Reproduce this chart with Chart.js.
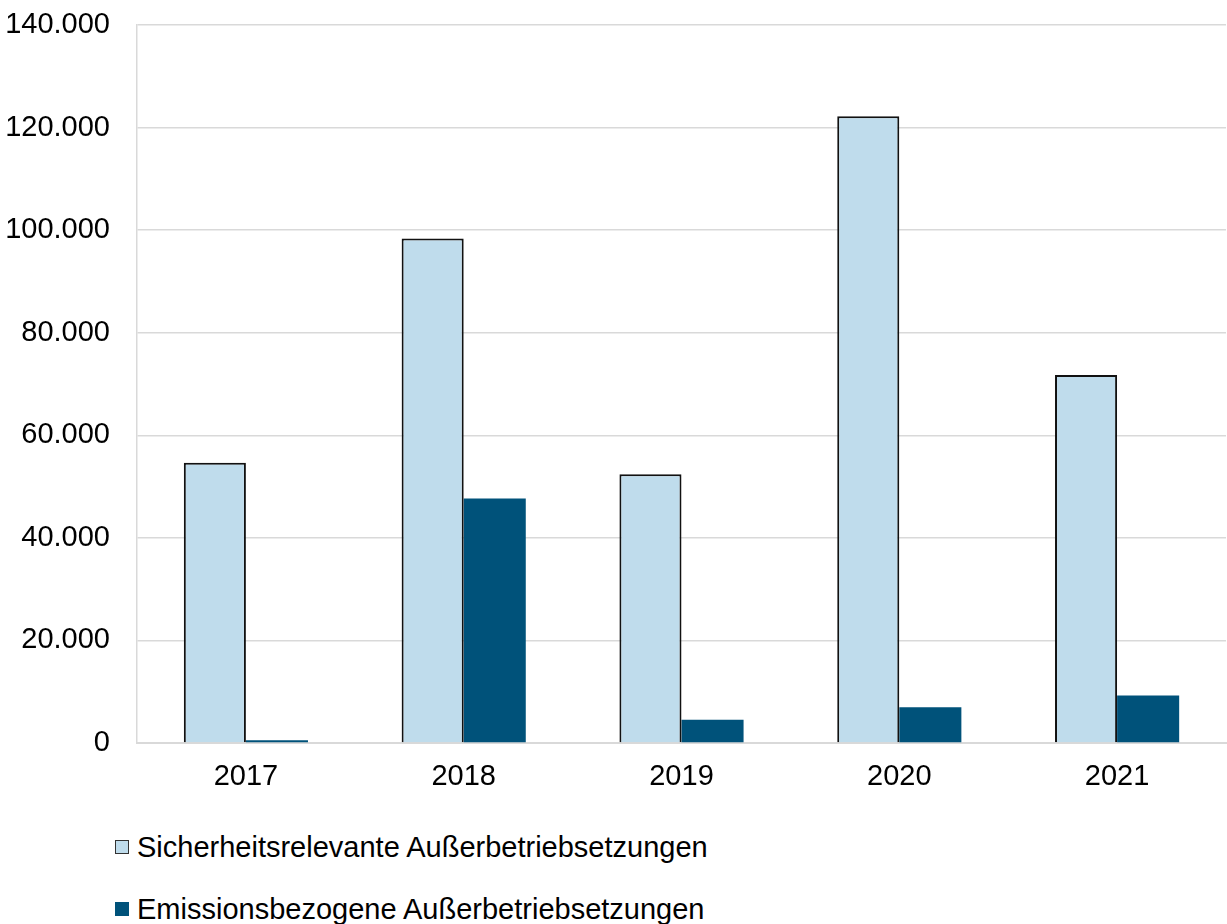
<!DOCTYPE html>
<html>
<head>
<meta charset="utf-8">
<script src="https://cdn.jsdelivr.net/npm/chart.js@4/dist/chart.umd.min.js"></script>
<style>
    body { margin: 0; background: #fff; font-family: "Liberation Sans", Arial, sans-serif; }
    #wrap { position: relative; width: 1227px; height: 924px; }
    #legend { position: absolute; left: 115px; top: 826px; font-size: 29px; color: #000; }
    .item { display: flex; align-items: center; height: 42px; margin-bottom: 20px; }
    .box { width: 14px; height: 14px; margin-right: 8px; box-sizing: border-box; }
</style>
</head>
<body>
<div id="wrap">
    <canvas id="chart" width="1227" height="800"></canvas>
    <div id="legend"></div>
</div>
<script>
var years = ['2017', '2018', '2019', '2020', '2021'];
var sicherheit = [54650, 98380, 52390, 122190, 71770]; // Sicherheitsrelevante
var emission = [550, 47650, 4530, 6990, 9270]; // Emissionsbezogene
var yTicks = [0, 20000, 40000, 60000, 80000, 100000, 120000, 140000];

function formatDe(v) { // Tausenderpunkt wie im Original
    return String(v).replace(/\B(?=(\d{3})+(?!\d))/g, '.');
}

var ctx = document.getElementById('chart');
var chart = new Chart(ctx, {
    type: 'bar',
    data: {
        labels: years,
        datasets: [{
            label: 'Sicherheitsrelevante Außerbetriebsetzungen',
            data: sicherheit,
            backgroundColor: '#bfdcec',
            borderColor: '#111111',
            borderWidth: 2
        }, {
            label: 'Emissionsbezogene Außerbetriebsetzungen',
            data: emission,
            backgroundColor: '#00527a',
            borderWidth: 0
        }]
    },
    options: {
        responsive: false,
        animation: false,
        datasets: { bar: { categoryPercentage: 0.57, barPercentage: 1 } },
        layout: { padding: { top: 25, right: 1, left: 0, bottom: 0 } },
        plugins: { legend: { display: false }, tooltip: { enabled: false } },
        scales: {
            x: {
                grid: { display: false },
                border: { color: '#d9d9d9', width: 2 },
                ticks: { color: '#000', font: { family: 'Liberation Sans', size: 29 }, padding: 9 },
                afterFit: function (scale) { scale.height = 57; }
            },
            y: {
                min: 0,
                max: 140000,
                afterBuildTicks: function (scale) {
                    scale.ticks = yTicks.map(function (v) { return { value: v }; });
                },
                grid: { color: '#d9d9d9', lineWidth: 1.5, drawTicks: false },
                border: { color: '#d9d9d9', width: 1.5 },
                ticks: {
                    color: '#000',
                    font: { family: 'Liberation Sans', size: 29 },
                    padding: 27,
                    callback: function (v) { return formatDe(v); }
                },
                afterFit: function (scale) {
                    scale.width = 137;
                    scale.paddingTop = 0; // obere Beschriftung darf in den Rand ragen
                    scale.paddingBottom = 0;
                }
            }
        }
    }
});

// Legende als HTML, zweizeilig wie im Original
var legend = document.getElementById('legend');
chart.data.datasets.forEach(function (ds) {
    var item = document.createElement('div');
    item.className = 'item';
    var box = document.createElement('span');
    box.className = 'box';
    box.style.background = ds.backgroundColor;
    if (ds.borderWidth) { box.style.border = '1.5px solid #333'; }
    var txt = document.createElement('span');
    txt.textContent = ds.label;
    item.appendChild(box);
    item.appendChild(txt);
    legend.appendChild(item);
});
</script>
</body>
</html>
